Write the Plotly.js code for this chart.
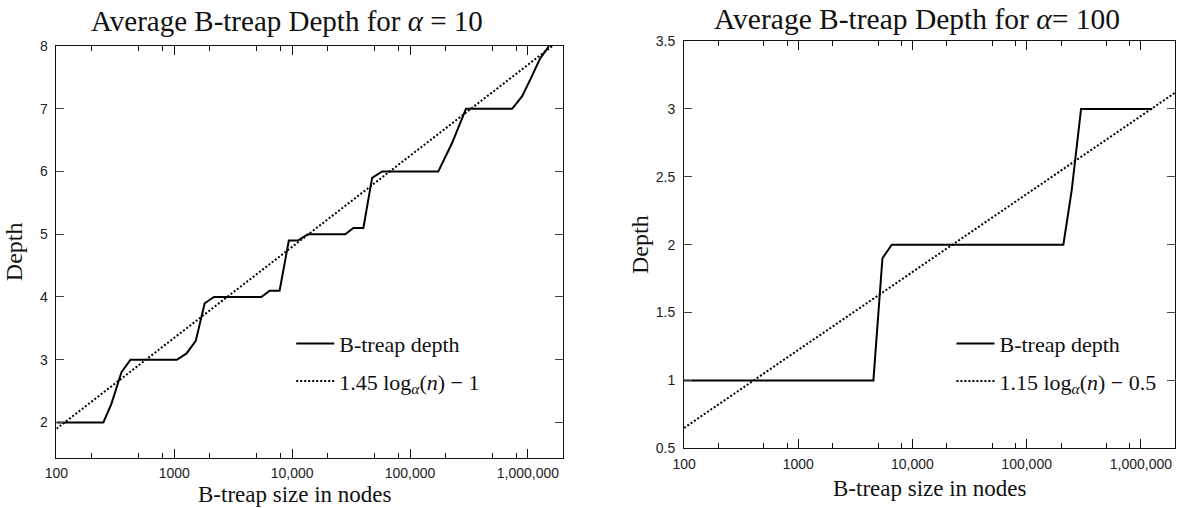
<!DOCTYPE html>
<html><head><meta charset="utf-8">
<script src="https://cdn.plot.ly/plotly-3.0.1.min.js"></script>
<style>html,body{margin:0;padding:0;background:#fff}</style>
</head><body><div id="chart" style="width:1179px;height:508px"></div>
<script>
// ---- data ----
const leftSizes  = [100, 250, 293, 356, 425, 1050, 1270, 1520, 1810, 2170, 5470, 6440, 7820, 9370, 11170, 13580, 28200, 33100, 40200, 47700, 58000, 173800, 227000, 253500, 298500, 736000, 895000, 1070000, 1270000, 1510000];
const leftDepth  = [2, 2, 2.3, 2.8, 3, 3, 3.1, 3.3, 3.9, 4, 4, 4.1, 4.1, 4.9, 4.9, 5, 5, 5.1, 5.1, 5.9, 6, 6, 6.45, 6.66, 7, 7, 7.2, 7.5, 7.8, 8];
const leftFitX   = [100, 1610000];
const leftFitY   = [1.9, 8.0];

const rightSizes = [100, 4550, 5460, 6590, 209600, 248000, 299500, 1260000];
const rightDepth = [1, 1, 1.9, 2, 2, 2.4, 3, 3];
const rightFitX  = [100, 2000000];
const rightFitY  = [0.65, 3.12];

const xTickVals  = [100, 1000, 10000, 100000, 1000000];
const xTickText  = ['100', '1000', '10,000', '100,000', '1,000,000'];
const xMinorVals = [200, 500, 800, 2000, 5000, 8000, 20000, 50000, 80000, 200000, 500000, 800000];

const leftTitle   = 'Average B-treap Depth for <i>α</i> = 10';
const rightTitle  = 'Average B-treap Depth for <i>α</i>= 100';
const xTitle      = 'B-treap size in nodes';
const yTitle      = 'Depth';
const seriesName  = 'B-treap depth';
const leftFitName = '1.45 log<sub><i>α</i></sub>(<i>n</i>) − 1';
const rightFitName= '1.15 log<sub><i>α</i></sub>(<i>n</i>) − 0.5';

// ---- styling ----
const SERIF = 'Liberation Serif, Times New Roman, serif';
const SANS  = 'Liberation Sans, Arial, sans-serif';

const traces = [
  {x: leftSizes, y: leftDepth, xaxis:'x', yaxis:'y', mode:'lines', name: seriesName,
   line:{color:'#000', width:2}, legend:'legend', legendgroup:'a'},
  {x: leftFitX, y: leftFitY, xaxis:'x', yaxis:'y', mode:'lines', name: leftFitName,
   line:{color:'#000', width:2, dash:'2px,2px'}, legend:'legend', legendgroup:'b'},
  {x: rightSizes, y: rightDepth, xaxis:'x2', yaxis:'y2', mode:'lines', name: seriesName,
   line:{color:'#000', width:2}, legend:'legend2', legendgroup:'c'},
  {x: rightFitX, y: rightFitY, xaxis:'x2', yaxis:'y2', mode:'lines', name: rightFitName,
   line:{color:'#000', width:2, dash:'2px,2px'}, legend:'legend2', legendgroup:'d'}
];

function xAxis(domain, anchor){
  return {
    type:'log', range:[2, 6.3], domain: domain, anchor: anchor,
    tickmode:'array', tickvals: xTickVals, ticktext: xTickText,
    ticks:'inside', ticklen:9, tickwidth:1, tickcolor:'#111',
    showline:true, linecolor:'#111', linewidth:1, mirror:'ticks',
    showgrid:false, zeroline:false, ticklabelstandoff:3,
    tickfont:{family:SANS, size:14, color:'#222'},
    minor:{tickvals: xMinorVals, ticks:'inside', ticklen:5, tickwidth:1, tickcolor:'#111', showgrid:false},
    automargin:false
  };
}
function yAxis(domain, anchor, range, dtick, standoff){
  return {
    range: range, domain: domain, anchor: anchor, dtick: dtick, tick0: 0,
    ticks:'inside', ticklen:8, tickwidth:1, tickcolor:'#444',
    showline:true, linecolor:'#111', linewidth:1, mirror:'ticks',
    showgrid:false, zeroline:false, ticklabelstandoff:5,
    tickfont:{family:SANS, size:14, color:'#222'},
    title:{text:yTitle, font:{family:SERIF, size:24, color:'#111'}, standoff:standoff},
    automargin:false
  };
}

const legendCommon = {
  font:{family:SERIF, size:22, color:'#111'},
  bgcolor:'rgba(0,0,0,0)', borderwidth:0,
  traceorder:'grouped', tracegroupgap:6, itemwidth:38,
  xanchor:'left', yanchor:'top', itemclick:false
};

const layout = {
  width:1179, height:508,
  margin:{l:0, r:0, t:0, b:0},
  paper_bgcolor:'#fff', plot_bgcolor:'#fff',
  showlegend:true,
  xaxis:  xAxis([0.0479, 0.4777], 'y'),
  yaxis:  yAxis([0.0992, 0.9094], 'x', [1.44, 8], 1, 10),
  xaxis2: xAxis([0.5802, 0.9967], 'y2'),
  yaxis2: yAxis([0.1175, 0.9193], 'x2', [0.5, 3.5], 0.5, 0),
  legend:  Object.assign({}, legendCommon, {x:0.247, y:0.365}),
  legend2: Object.assign({}, legendCommon, {x:0.807, y:0.365}),
  annotations:[
    {text:leftTitle, xref:'paper', yref:'paper', x:0.2434, y:0.958, xanchor:'center', yanchor:'middle',
     showarrow:false, font:{family:SERIF, size:29, color:'#111'}},
    {text:rightTitle, xref:'paper', yref:'paper', x:0.7778, y:0.962, xanchor:'center', yanchor:'middle',
     showarrow:false, font:{family:SERIF, size:29.5, color:'#111'}},
    {text:xTitle, xref:'paper', yref:'paper', x:0.2502, y:0.0, xanchor:'center', yanchor:'bottom',
     showarrow:false, borderpad:0, font:{family:SERIF, size:23, color:'#111'}},
    {text:xTitle, xref:'paper', yref:'paper', x:0.7892, y:0.012, xanchor:'center', yanchor:'bottom',
     showarrow:false, borderpad:0, font:{family:SERIF, size:23, color:'#111'}}
  ]
};

Plotly.newPlot('chart', traces, layout, {staticPlot:true, displayModeBar:false});
</script>
</body></html>
